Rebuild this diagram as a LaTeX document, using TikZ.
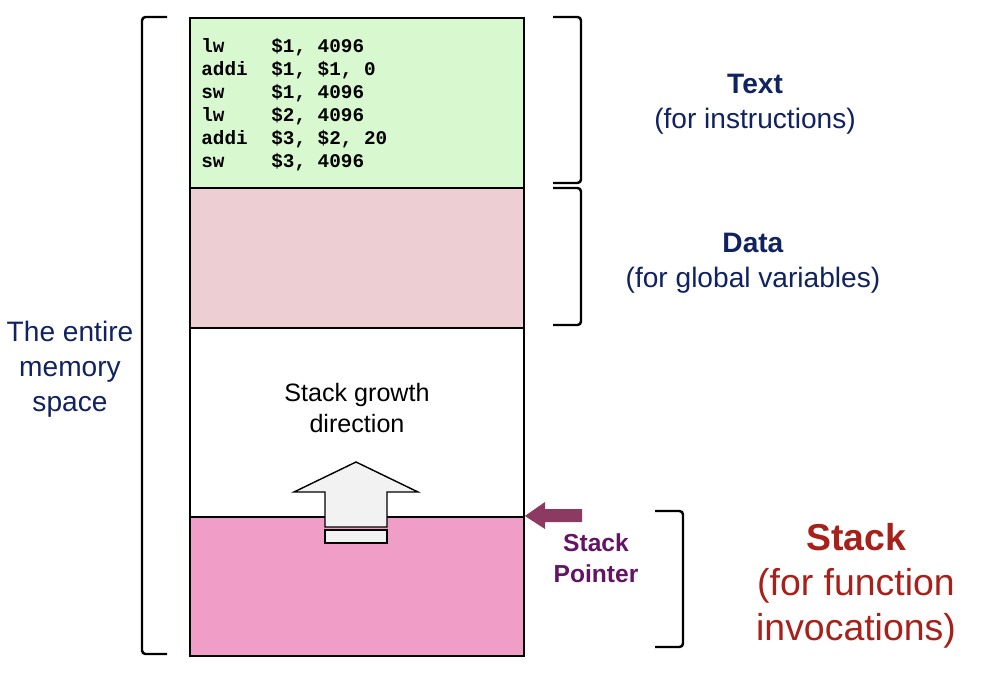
\documentclass[tikz,border=0pt]{standalone}
\usepackage{fontspec}
\setmainfont{Liberation Sans}
\setmonofont{Liberation Mono}
\usepackage{tikz}
\usetikzlibrary{positioning}

\begin{document}
\begin{tikzpicture}[x=0.02cm,y=-0.02cm,
  seg/.style={draw=black,line width=1.1pt,fill=#1,inner sep=0pt,anchor=north west,minimum width=6.68cm},
  brack/.style={draw=black,line width=1.4pt,rounded corners=2pt},
  navylbl/.style={text=navy,font=\fontsize{16}{20}\selectfont,align=center},
  code/.style={font=\fontsize{11}{13}\selectfont\ttfamily\bfseries,anchor=base west,inner sep=0pt}]
  \definecolor{textseg}{RGB}{216,248,207};
  \definecolor{dataseg}{RGB}{236,206,211};
  \definecolor{stackseg}{RGB}{240,157,200};
  \definecolor{navy}{RGB}{16,34,96};
  \definecolor{stackred}{RGB}{168,32,26};
  \definecolor{sparrow}{RGB}{140,58,98};
  \definecolor{sptext}{RGB}{100,20,100};
  \definecolor{growfill}{RGB}{242,242,242};
  \useasboundingbox (0,0) rectangle (986,678);
	\node [seg=textseg, minimum height=3.4cm] (text) at (189,17) {};
	\node [seg=dataseg, minimum height=2.8cm] (data) at (189,187) {};
	\node [seg=white, minimum height=3.78cm] (free) at (189,327) {};
	\node [seg=stackseg, minimum height=2.78cm] (stack) at (189,516) {};
	\foreach \op/\arg [count=\i] in {lw/{\$1, 4096}, addi/{\$1, \$1, 0}, sw/{\$1, 4096},
	    lw/{\$2, 4096}, addi/{\$3, \$2, 20}, sw/{\$3, 4096}} {
	  \node [code] (op\i) at (201,30+23*\i) {\op};
	  \node [code] (arg\i) at (271,30+23*\i) {\arg};
	}
	\draw [fill=growfill,line width=0.8pt] (325,527) -- (387,527) -- (387,492) -- (418,492)
	  -- (356,462) -- (294,492) -- (325,492) -- cycle;
	\draw [fill=growfill,line width=0.8pt] (325,530) rectangle (387,543);
	\node [align=center,font=\fontsize{14.3}{17.6}\selectfont] (grow) at (357,408) {Stack growth\\direction};
	\fill [sparrow] (stack.north east) -- (545,502) -- (545,509) -- (582,509) -- (582,522)
	  -- (545,522) -- (545,529) -- cycle;
	\node [align=center,text=sptext,font=\fontsize{14}{17.6}\selectfont\bfseries] (sp) at (596,558) {Stack\\Pointer};
	\draw [brack] (167,17) -| (142,654) -- (167,654);
	\draw [brack] (553,17) -| (581,183) -- (553,183);
	\draw [brack] (553,188) -| (581,325) -- (553,325);
	\draw [brack] (655,511) -| (683,647) -- (655,647);
	\node [navylbl] (whole) at (70,369) {The entire\\memory\\space};
	\node [navylbl] (textlbl) at (755,104) {\textbf{Text}\\(for instructions)};
	\node [navylbl] (datalbl) at (753,263) {\textbf{Data}\\(for global variables)};
	\node [text=stackred,align=center,font=\fontsize{21.3}{25.6}\selectfont] (stacklbl) at (856,586)
	  {\textbf{Stack}\\(for function\\invocations)};
\end{tikzpicture}
\end{document}
